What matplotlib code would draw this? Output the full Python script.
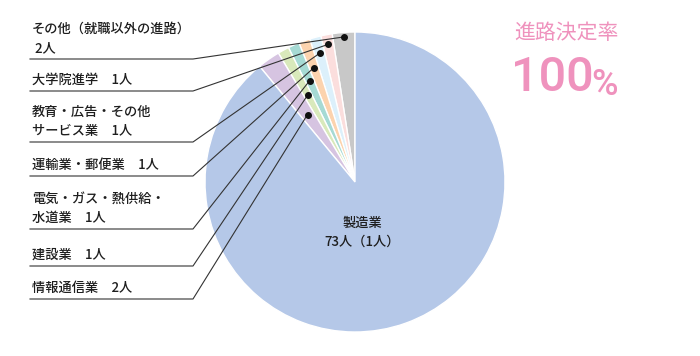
"""
career destinations pie chart with leader-line labels on the left
"""

import numpy as np
import matplotlib.pyplot as plt

plt.rcParams['font.family'] = ['Noto Sans CJK JP', 'DejaVu Sans']

# slices counter-clockwise from 12 o'clock
labels = ['その他（就職以外の進路）\n 2人', '大学院進学　1人',
          '教育・広告・その他\nサービス業　1人', '運輸業・郵便業　1人',
          '電気・ガス・熱供給・\n水道業　1人', '建設業　1人', '情報通信業　2人',
          '製造業']
counts = [2, 1, 1, 1, 1, 1, 2, 73]
colors = ['#c8c8c8', '#fbdedd', '#dcf0fb', '#fcd3ae', '#a6dad4',
          '#d9e9bb', '#d6c4e1', '#b5c8e8']
main_label = '製造業\n73人（1人）'

# radius fraction of each leader dot, and y of each label underline (px)
dot_r = [0.97, 0.935, 0.89, 0.81, 0.74, 0.66, 0.55]
line_y = [59, 91, 142, 176, 229, 266, 299]

W, H = 700, 356
cx, cy, R = 355, H - 182, 150

fig = plt.figure(figsize=(7, 3.56), dpi=100)
ax = fig.add_axes([0, 0, 1, 1])

wedges, _ = ax.pie(counts, colors=colors, startangle=90, counterclock=True,
                   center=(cx, cy), radius=R, frame=True,
                   wedgeprops=dict(edgecolor='white', linewidth=1))
ax.set_xlim(0, W)
ax.set_ylim(0, H)
ax.set_aspect('equal')
ax.axis('off')

# leader lines and labels
for i, w in enumerate(wedges[:-1]):
    ang = np.deg2rad((w.theta1 + w.theta2) / 2)
    dx = cx + R * dot_r[i] * np.cos(ang)
    dy = cy + R * dot_r[i] * np.sin(ang)
    ly = H - line_y[i]
    ax.plot([30, 193, dx], [ly, ly, dy], color='#333333', lw=0.8)
    ax.plot(dx, dy, 'o', color='#111111', ms=4)
    ax.text(32, ly + 4, labels[i], fontsize=9.5, color='#1e1e1e',
            ha='left', va='bottom', linespacing=1.45, fontweight='medium')

ax.text(362, H - 232, main_label, fontsize=9.5, color='#1e1e1e',
        ha='center', va='center', linespacing=1.45, fontweight='medium')

pink = '#ef92bd'
ax.text(566, H - 33, '進路決定率', fontsize=15, color=pink,
        ha='center', va='center')
ax.text(552, H - 78, '100', fontsize=35, color=pink, ha='center',
        va='center', family=['Roboto', 'DejaVu Sans'], fontweight='medium')
ax.text(591, H - 95, '%', fontsize=26, color=pink, ha='left',
        va='baseline', family=['Roboto', 'DejaVu Sans'], fontweight='medium')

plt.savefig('out.png', dpi=100, facecolor='white')
